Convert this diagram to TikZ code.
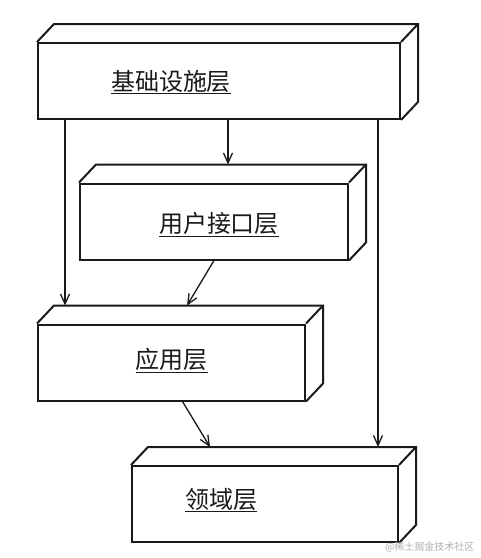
\documentclass[tikz,border=0pt]{standalone}
\usepackage{fontspec}
\usepackage{tikz}
\usetikzlibrary{arrows.meta, positioning, calc}
\newfontfamily\cjk{Noto Sans CJK SC}
\definecolor{cLine}{HTML}{1A1A1A}
\definecolor{cMark}{HTML}{B0B0B0}

% top and right faces of a slab, plus its back-top-left corner
\newcommand{\slabfaces}[1]{%
  \draw[face] (#1.north west) -- ++(17,-18) -| ($(#1.south east)+(17,-18)$)
              -- (#1.south east);
  \draw[face] (#1.north east) -- ++(17,-18);
  \coordinate (#1-back) at ($(#1.north west)+(17,-18)$);}

\begin{document}
\begin{tikzpicture}[
    x=1pt, y=-1pt,
    slab/.style={draw=cLine, line width=2pt, minimum width=#1,
                 minimum height=76pt, inner sep=0pt},
    face/.style={draw=cLine, line width=2pt},
    lbl/.style={font=\cjk\fontsize{24}{28}\selectfont, inner sep=0pt,
                text=cLine},
    arr/.style={-{Straight Barb[length=10pt, width=9pt]}, line width=1.3pt,
                draw=cLine},
  ]
  \fill[white] (0,0) rectangle (481,558);
  \useasboundingbox (0,0) rectangle (481,558);

  % Layers
  \node[slab=362pt] (infra) at (219,81)    {};
  \node[slab=268pt] (ui)    at (214,221.5) {};
  \node[slab=267pt] (app)   at (171.5,362.5) {};
  \node[slab=266pt] (dom)   at (265,504)   {};
  \slabfaces{infra}
  \slabfaces{ui}
  \slabfaces{app}
  \slabfaces{dom}

  \node[lbl] (infra-l) at ([xshift=-48pt, yshift=-1pt]infra.center) {\underline{基础设施层}};
  \node[lbl] (ui-l)    at ([xshift=5pt, yshift=-3pt]ui.center)      {\underline{用户接口层}};
  \node[lbl] (app-l)   at ([yshift=2pt]app.center)                  {\underline{应用层}};
  \node[lbl] (dom-l)   at ([xshift=-44pt, yshift=4pt]dom.center)    {\underline{领域层}};

  % Dependencies
  \draw[arr] ([xshift=28pt]infra.south west)  -- ([xshift=28pt]infra.south west |- app-back);
  \draw[arr] ([xshift=191pt]infra.south west) -- ([xshift=191pt]infra.south west |- ui-back);
  \draw[arr] ([xshift=341pt]infra.south west) -- ([xshift=341pt]infra.south west |- dom-back);
  \draw[arr] (ui.south)  -- ([xshift=133pt]app-back);
  \draw[arr] ([xshift=11pt]app.south) -- ([xshift=62pt]dom-back);

  \node[font=\cjk\fontsize{10}{12}\selectfont, text=cMark, anchor=east]
    (mark) at (478,547) {@稀土掘金技术社区};
\end{tikzpicture}
\end{document}
